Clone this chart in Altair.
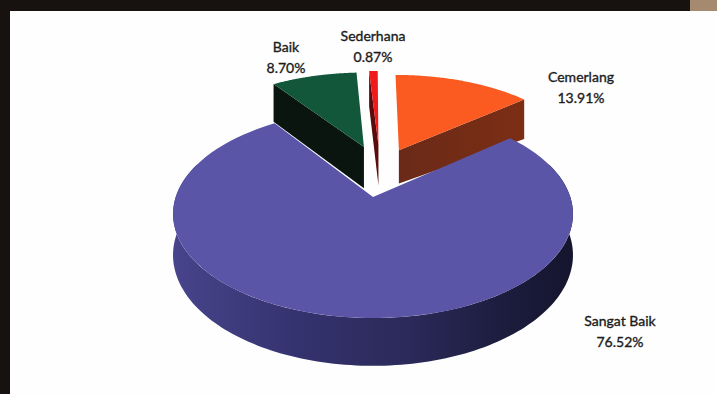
import math
import altair as alt
import pandas as pd

# Share of each grade, percent, going clockwise from twelve o'clock
grades = ["Cemerlang", "Sangat Baik", "Baik", "Sederhana"]
shares = [13.91, 76.52, 8.70, 0.87]
share_labels = ["13.91%", "76.52%", "8.70%", "0.87%"]

top_colors = ["#fb5a20", "#5a55a6", "#12573a", "#f01a1a"]

# Disc projection
CX, CY = 373.0, 197.0
RX, RY = 197.3, 101.3
K = 0.163
DEPTH = 40.0

# How far each wedge is pulled out of the pie, in disc units
pull = {"Cemerlang": (0.142, 0.50), "Sangat Baik": (0.0, 0.0),
        "Baik": (-0.05, 0.537), "Sederhana": (0.03, 0.56)}

W, H = 717, 394
FRAME_LEFT, FRAME_TOP = 10, 11

x_scale = alt.Scale(domain=[0, W], range=[0, W], nice=False, zero=False)
y_scale = alt.Scale(domain=[0, H], range=[0, H], nice=False, zero=False)


def project(u, v, depth=0.0):
    w = 1 + K * v
    return CX + RX * u / w, CY - RY * v / w + depth / w


def rim_point(angle, name, depth=0.0):
    a = math.radians(angle)
    ox, oy = pull[name]
    return project(math.sin(a) + ox, math.cos(a) + oy, depth)


def sweep(a0, a1, n=90):
    return [a0 + (a1 - a0) * i / n for i in range(n + 1)]


def polygon(points, fill):
    df = pd.DataFrame(points, columns=["px", "py"]).assign(step=range(len(points)))
    return (
        alt.Chart(df)
        .mark_line(fill=fill, stroke="transparent", strokeWidth=0, interpolate="linear")
        .encode(
            x=alt.X("px:Q", scale=x_scale, axis=None),
            y=alt.Y("py:Q", scale=y_scale, axis=None),
            order="step:Q",
        )
    )


def side_gradient(stops):
    return alt.Gradient(
        gradient="linear", x1=0, y1=0, x2=1, y2=0,
        stops=[alt.GradientStop(offset=o, color=c) for o, c in stops],
    )


# Start and end angle of every wedge
bounds = {}
start = 0.0
for name, share in zip(grades, shares):
    bounds[name] = (start, start + share * 3.6)
    start += share * 3.6


def top_face(name, color):
    a0, a1 = bounds[name]
    pts = [rim_point(a, name) for a in sweep(a0, a1)]
    ox, oy = pull[name]
    pts.append(project(ox, oy))
    return polygon(pts, color)


def radial_wall(name, angle, fill, apex_depth, rim_depth):
    ox, oy = pull[name]
    pts = [
        project(ox, oy),
        rim_point(angle, name),
        rim_point(angle, name, rim_depth),
        project(ox, oy, apex_depth),
    ]
    return polygon(pts, fill)


def outer_wall(name, a0, a1, fill):
    upper = [rim_point(a, name) for a in sweep(a0, a1, 160)]
    lower = [rim_point(a, name, DEPTH) for a in sweep(a1, a0, 160)]
    return polygon(upper + lower, fill)


def block(x0, x1, y0, y1, color):
    return alt.Chart(pd.DataFrame({"a": [0]})).mark_rect(color=color).encode(
        x=alt.value(x0), x2=alt.value(x1), y=alt.value(y0), y2=alt.value(y1))


layers = [
    # Dark surround, the wooden corner and the white page
    block(0, W, 0, H, "#171210"),
    block(690, W, 0, FRAME_TOP, "#a58a70"),
    block(FRAME_LEFT, W, FRAME_TOP, H, "#fefefe"),
    # Pulled-out wedges sit behind the main disc
    radial_wall("Cemerlang", bounds["Cemerlang"][1],
                side_gradient([(0, "#6a2a18"), (1, "#7c2e14")]), 36, 47),
    top_face("Cemerlang", top_colors[0]),
    radial_wall("Baik", bounds["Baik"][0], "#0a1510", 45, 46),
    top_face("Baik", top_colors[2]),
    radial_wall("Sederhana", bounds["Sederhana"][0], "#5a0c0c", 44, 44),
    top_face("Sederhana", top_colors[3]),
    # Main disc: rim first, then the top face over it
    outer_wall("Sangat Baik", 70, 290, side_gradient([
        (0.0, "#47448c"), (0.3, "#35336f"), (0.6, "#2a2958"), (0.85, "#1b1b3c"), (1.0, "#15152e"),
    ])),
    top_face("Sangat Baik", top_colors[1]),
]

# Labels
label_rows = []
anchors = {"Cemerlang": (581, 78), "Sangat Baik": (620, 322), "Baik": (286, 48), "Sederhana": (373, 37)}
for name, text in zip(grades, share_labels):
    ax, ay = anchors[name]
    label_rows.append({"lx": ax, "ly": ay, "t": name})
    label_rows.append({"lx": ax, "ly": ay + 21, "t": text})

layers.append(
    alt.Chart(pd.DataFrame(label_rows))
    .mark_text(font="Lato", fontSize=14, color="#1c1c1c", stroke="#1c1c1c", strokeWidth=0.35,
               align="center", baseline="middle")
    .encode(
        x=alt.X("lx:Q", scale=x_scale, axis=None),
        y=alt.Y("ly:Q", scale=y_scale, axis=None),
        text="t:N",
    )
)

chart = (
    alt.layer(*layers)
    .properties(width=W, height=H, padding=0, autosize=alt.AutoSizeParams(type="none"))
    .configure_view(stroke=None)
)

chart.save("out.html", embed_options={"renderer": "svg", "actions": False})
